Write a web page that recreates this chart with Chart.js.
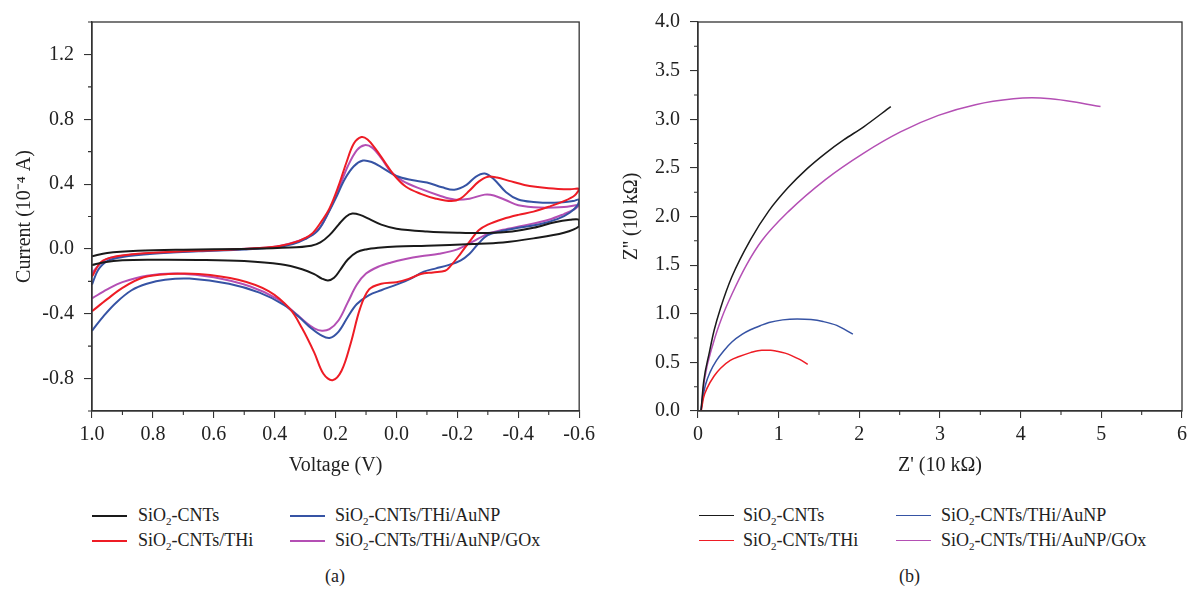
<!DOCTYPE html>
<html>
<head>
<meta charset="utf-8">
<script src="https://cdn.jsdelivr.net/npm/chart.js@4.4.1/dist/chart.umd.min.js"></script>
<style>
  html, body { margin: 0; padding: 0; background: #fff; }
  body { width: 1192px; height: 595px; overflow: hidden; position: relative; font-family: 'Liberation Serif', 'Times New Roman', serif; color: #222; }
  canvas { position: absolute; top: 0; }
  .lg { position: absolute; font-size: 18px; line-height: 20px; white-space: nowrap; }
  .ln { position: absolute; height: 0; border-top: 2px solid #000; }
  .lg sub { font-size: 11px; vertical-align: -4px; line-height: 0; }
  .cap { position: absolute; font-size: 18px; }
</style>
</head>
<body>
<canvas id="cvA" width="600" height="490" style="left:0px;"></canvas>
<canvas id="cvB" width="592" height="490" style="left:600px;"></canvas>

<script>
// ---------------- DATA ----------------
const seriesNames = ["SiO2-CNTs", "SiO2-CNTs/THi", "SiO2-CNTs/THi/AuNP", "SiO2-CNTs/THi/AuNP/GOx"];
const seriesColors = ["#1a1a1a", "#ee1c25", "#3653a4", "#b44fb4"];

// Panel (a): cyclic voltammograms, voltage (V) and current (1e-4 A); forward branch then return branch
const cvBlackV = [1.0,0.95,0.85,0.7,0.5,0.35,0.28,0.25,0.22,0.19,0.165,0.145,0.12,0.09,0.05,0.0,-0.1,-0.2,-0.3,-0.38,-0.45,-0.52,-0.57,-0.6,
                  -0.6,-0.55,-0.45,-0.35,-0.25,-0.1,0.0,0.06,0.1,0.13,0.16,0.185,0.205,0.225,0.245,0.27,0.31,0.38,0.5,0.65,0.8,0.9,0.96,1.0];
const cvBlackI = [-0.045,-0.025,-0.012,-0.005,0.0,0.008,0.02,0.04,0.085,0.15,0.2,0.218,0.21,0.185,0.15,0.125,0.108,0.1,0.098,0.108,0.13,0.165,0.18,0.18,
                  0.14,0.1,0.065,0.04,0.03,0.02,0.015,0.007,-0.003,-0.02,-0.065,-0.13,-0.178,-0.195,-0.183,-0.155,-0.125,-0.095,-0.075,-0.068,-0.067,-0.07,-0.082,-0.10];

const cvRedV = [1.0,0.97,0.93,0.85,0.7,0.55,0.45,0.38,0.32,0.28,0.25,0.22,0.19,0.165,0.14,0.115,0.095,0.07,0.04,0.01,-0.03,-0.08,-0.13,-0.18,-0.21,-0.24,-0.27,-0.3,-0.33,-0.37,-0.42,-0.5,-0.57,-0.6,
                -0.585,-0.55,-0.5,-0.45,-0.4,-0.35,-0.3,-0.27,-0.24,-0.21,-0.18,-0.16,-0.12,-0.08,-0.04,0.0,0.05,0.09,0.12,0.15,0.18,0.21,0.24,0.27,0.31,0.35,0.42,0.52,0.65,0.75,0.83,0.9,0.95,1.0];
const cvRedI = [-0.17,-0.08,-0.05,-0.03,-0.015,-0.005,0.005,0.02,0.05,0.09,0.16,0.25,0.39,0.53,0.65,0.69,0.675,0.62,0.54,0.46,0.385,0.34,0.31,0.295,0.31,0.36,0.415,0.445,0.44,0.42,0.395,0.375,0.368,0.37,
                0.33,0.295,0.26,0.23,0.21,0.185,0.15,0.115,0.045,-0.03,-0.1,-0.135,-0.145,-0.155,-0.185,-0.205,-0.215,-0.25,-0.37,-0.58,-0.75,-0.81,-0.77,-0.64,-0.49,-0.37,-0.26,-0.19,-0.155,-0.155,-0.175,-0.24,-0.31,-0.385];

const cvBlueV = [1.0,0.98,0.95,0.9,0.8,0.65,0.5,0.4,0.34,0.3,0.26,0.23,0.2,0.17,0.14,0.11,0.08,0.05,0.0,-0.05,-0.1,-0.15,-0.19,-0.23,-0.26,-0.29,-0.32,-0.36,-0.4,-0.45,-0.52,-0.58,-0.6,
                 -0.595,-0.57,-0.53,-0.47,-0.4,-0.34,-0.3,-0.27,-0.24,-0.21,-0.17,-0.13,-0.09,-0.04,0.0,0.05,0.09,0.13,0.16,0.19,0.22,0.25,0.28,0.32,0.37,0.45,0.55,0.68,0.76,0.82,0.87,0.92,0.96,1.0];
const cvBlueI = [-0.22,-0.13,-0.075,-0.05,-0.03,-0.015,-0.003,0.01,0.03,0.06,0.11,0.2,0.31,0.43,0.51,0.545,0.535,0.505,0.45,0.425,0.41,0.38,0.365,0.395,0.445,0.465,0.43,0.35,0.305,0.29,0.285,0.295,0.305,
                 0.27,0.225,0.185,0.152,0.13,0.108,0.085,0.035,-0.03,-0.072,-0.1,-0.12,-0.14,-0.19,-0.22,-0.255,-0.285,-0.34,-0.42,-0.51,-0.55,-0.53,-0.49,-0.42,-0.345,-0.27,-0.215,-0.183,-0.19,-0.215,-0.255,-0.33,-0.41,-0.505];

const cvPinkV = [1.0,0.97,0.94,0.87,0.75,0.6,0.45,0.38,0.32,0.28,0.25,0.22,0.19,0.16,0.13,0.105,0.08,0.05,0.02,-0.02,-0.08,-0.14,-0.19,-0.24,-0.29,-0.32,-0.36,-0.4,-0.47,-0.55,-0.6,
                 -0.585,-0.55,-0.5,-0.42,-0.35,-0.3,-0.25,-0.2,-0.14,-0.08,-0.03,0.02,0.06,0.1,0.13,0.16,0.19,0.22,0.245,0.27,0.3,0.33,0.39,0.48,0.6,0.72,0.82,0.9,0.95,1.0];
const cvPinkI = [-0.15,-0.085,-0.055,-0.035,-0.02,-0.008,0.005,0.02,0.05,0.085,0.135,0.24,0.37,0.51,0.61,0.64,0.625,0.56,0.48,0.42,0.37,0.33,0.305,0.31,0.335,0.33,0.3,0.27,0.255,0.258,0.27,
                 0.245,0.215,0.18,0.145,0.118,0.093,0.045,-0.003,-0.03,-0.045,-0.062,-0.085,-0.11,-0.152,-0.22,-0.33,-0.44,-0.495,-0.505,-0.49,-0.45,-0.4,-0.31,-0.232,-0.175,-0.152,-0.165,-0.205,-0.25,-0.305];

const cvXTicks = [1.0,0.8,0.6,0.4,0.2,0.0,-0.2,-0.4,-0.6];
const cvYTicks = [-0.8,-0.4,0.0,0.4,0.8,1.2];

// Panel (b): Nyquist plots, Z' and Z'' (10 kOhm)
const nyBlackRe = [0.037,0.07,0.14,0.2,0.28,0.42,0.65,0.88,1.12,1.35,1.58,1.81,2.05,2.39];
const nyBlackIm = [0.0,0.3,0.6,0.83,1.06,1.38,1.76,2.06,2.3,2.49,2.65,2.79,2.92,3.13];
const nyRedRe = [0.04,0.07,0.116,0.2,0.28,0.4,0.51,0.65,0.79,0.9,0.98,1.08,1.16,1.26,1.36];
const nyRedIm = [0.0,0.14,0.24,0.36,0.44,0.52,0.56,0.6,0.625,0.625,0.615,0.595,0.57,0.53,0.48];
const nyBlueRe = [0.037,0.06,0.093,0.15,0.23,0.32,0.42,0.55,0.65,0.78,0.88,1.05,1.23,1.4,1.55,1.72,1.92];
const nyBlueIm = [0.0,0.14,0.27,0.4,0.52,0.62,0.71,0.79,0.835,0.88,0.91,0.937,0.946,0.94,0.92,0.88,0.79];
const nyPinkRe = [0.037,0.08,0.19,0.3,0.42,0.6,0.79,1.12,1.58,2.05,2.51,2.98,3.44,3.91,4.14,4.37,4.65,4.99];
const nyPinkIm = [0.0,0.32,0.7,0.97,1.2,1.5,1.75,2.05,2.38,2.65,2.87,3.04,3.15,3.21,3.22,3.21,3.18,3.13];

const nyXTicks = [0,1,2,3,4,5,6];
const nyYTicks = [0.0,0.5,1.0,1.5,2.0,2.5,3.0,3.5,4.0];

// ---------------- HELPERS ----------------
const zip = (xs, ys) => xs.map((x, i) => ({x: x, y: ys[i]}));
const FONT = "'Liberation Serif', 'Times New Roman', serif";
const AX = '#333';

const framePlugin = {
  id: 'frame',
  afterDraw(chart) {
    const {ctx, chartArea: a, scales} = chart;
    ctx.save();
    ctx.strokeStyle = AX;
    ctx.lineWidth = 1.3;
    ctx.strokeRect(a.left, a.top, a.right - a.left, a.bottom - a.top);
    ctx.lineWidth = 1.1;
    const xs = scales.x, ys = scales.y;
    const xt = xs.ticks.map(t => t.value), yt = ys.ticks.map(t => t.value);
    ctx.beginPath();
    for (let i = 0; i < xt.length - 1; i++) {
      const px = xs.getPixelForValue((xt[i] + xt[i + 1]) / 2);
      ctx.moveTo(px, a.bottom); ctx.lineTo(px, a.bottom + 4);
    }
    const yv = [];
    for (let i = 0; i < yt.length - 1; i++) yv.push((yt[i] + yt[i + 1]) / 2);
    const step = yt.length > 1 ? (yt[1] - yt[0]) : 0;
    if (step) {
      let v = yt[0] - step / 2; while (v > ys.min - 1e-9) { yv.push(v); v -= step / 2; }
      v = yt[yt.length - 1] + step / 2; while (v < ys.max + 1e-9) { yv.push(v); v += step / 2; }
    }
    yv.forEach(v => {
      const py = ys.getPixelForValue(v);
      ctx.moveTo(a.left, py); ctx.lineTo(a.left - 4, py);
    });
    ctx.stroke();
    ctx.restore();
  }
};

function axisCommon(extra) {
  return Object.assign({
    type: 'linear',
    grid: { display: true, drawOnChartArea: false, drawTicks: true, tickLength: 8, color: AX, lineWidth: 1.1 },
    border: { display: true, color: AX, width: 1.3 },
  }, extra);
}

// ---------------- PANEL (a) ----------------
const cvData = [zip(cvBlackV, cvBlackI), zip(cvRedV, cvRedI), zip(cvBlueV, cvBlueI), zip(cvPinkV, cvPinkI)];

new Chart(document.getElementById('cvA'), {
  type: 'scatter',
  data: {
    datasets: cvData.map((d, i) => ({
      label: seriesNames[i], data: d, showLine: true, borderColor: seriesColors[i],
      borderWidth: 2, pointRadius: 0, tension: 0.35, fill: false
    }))
  },
  options: {
    responsive: false, animation: false, events: [],
    layout: { padding: { top: 17, right: 20, left: 0, bottom: 0 } },
    plugins: { legend: { display: false }, tooltip: { enabled: false } },
    scales: {
      x: axisCommon({
        reverse: true, min: -0.6, max: 1.0,
        afterBuildTicks: s => { s.ticks = cvXTicks.map(v => ({value: v})); },
        afterFit: s => { s.height = 79; },
        grid: { display: true, drawOnChartArea: false, drawTicks: true, tickLength: 7, color: AX, lineWidth: 1.1 },
        ticks: { autoSkip: false, maxRotation: 0, padding: 5, color: '#222', font: { family: FONT, size: 20 },
                 callback: v => (Math.abs(v) < 1e-9 ? 0 : v).toFixed(1) },
        title: { display: true, text: 'Voltage (V)', color: '#222', font: { family: FONT, size: 20 }, padding: { top: 0, bottom: 12 } }
      }),
      y: axisCommon({
        min: -1.0, max: 1.4,
        afterBuildTicks: s => { s.ticks = cvYTicks.map(v => ({value: v})); },
        afterFit: s => { s.width = 92; },
        ticks: { autoSkip: false, padding: 10, color: '#222', font: { family: FONT, size: 20 },
                 callback: v => (Math.abs(v) < 1e-9 ? 0 : v).toFixed(1) },
        title: { display: true, text: 'Current (10\u207B\u2074 A)', color: '#222', font: { family: FONT, size: 20 }, padding: { top: 13, bottom: 0 } }
      })
    }
  },
  plugins: [framePlugin]
});

// ---------------- PANEL (b) ----------------
const nyData = [zip(nyBlackRe, nyBlackIm), zip(nyRedRe, nyRedIm), zip(nyBlueRe, nyBlueIm), zip(nyPinkRe, nyPinkIm)];

new Chart(document.getElementById('cvB'), {
  type: 'scatter',
  data: {
    datasets: nyData.map((d, i) => ({
      label: seriesNames[i], data: d, showLine: true, borderColor: seriesColors[i],
      borderWidth: 1.5, pointRadius: 0, cubicInterpolationMode: 'monotone', fill: false
    }))
  },
  options: {
    responsive: false, animation: false, events: [],
    layout: { padding: { top: 19, right: 6, left: 0, bottom: 0 } },
    plugins: { legend: { display: false }, tooltip: { enabled: false } },
    scales: {
      x: axisCommon({
        min: 0, max: 6,
        afterBuildTicks: s => { s.ticks = nyXTicks.map(v => ({value: v})); },
        afterFit: s => { s.height = 79; },
        grid: { display: true, drawOnChartArea: false, drawTicks: true, tickLength: 7, color: AX, lineWidth: 1.1 },
        ticks: { autoSkip: false, maxRotation: 0, padding: 5, color: '#222', font: { family: FONT, size: 20 },
                 callback: v => String(Math.round(v)) },
        title: { display: true, text: "Z' (10 k\u03A9)", color: '#222', font: { family: FONT, size: 20 }, padding: { top: 0, bottom: 12 } }
      }),
      y: axisCommon({
        min: 0, max: 4,
        afterBuildTicks: s => { s.ticks = nyYTicks.map(v => ({value: v})); },
        afterFit: s => { s.width = 98; },
        ticks: { autoSkip: false, padding: 10, color: '#222', font: { family: FONT, size: 20 },
                 callback: v => v.toFixed(1) },
        title: { display: true, text: "Z'' (10 k\u03A9)", color: '#222', font: { family: FONT, size: 20 }, padding: { top: 20, bottom: 0 } }
      })
    }
  },
  plugins: [framePlugin]
});

// ---------------- LEGENDS (HTML, real text) ----------------
function legendHTML(name) {
  return name.replace('SiO2', 'SiO<sub>2</sub>');
}
const legendRows = [516, 541];
const legendLayouts = [
  { cols: [{line: 92, text: 138}, {line: 290, text: 335}] },
  { cols: [{line: 699, text: 743}, {line: 896, text: 941}] }
];
legendLayouts.forEach((L, p) => {
  seriesNames.forEach((name, i) => {
    const col = L.cols[Math.floor(i / 2)];
    const y = legendRows[i % 2];
    const ln = document.createElement('div');
    ln.className = 'ln';
    ln.style.left = col.line + 'px';
    ln.style.width = '35px';
    ln.style.top = (y - 1) + 'px';
    ln.style.borderTopColor = seriesColors[i];
    ln.style.borderTopWidth = p === 0 ? '2px' : '1.6px';
    document.body.appendChild(ln);
    const tx = document.createElement('div');
    tx.className = 'lg';
    tx.style.left = col.text + 'px';
    tx.style.top = (y - 11) + 'px';
    tx.innerHTML = legendHTML(name);
    document.body.appendChild(tx);
  });
});
[['(a)', 336], ['(b)', 910]].forEach(([t, x]) => {
  const d = document.createElement('div');
  d.className = 'cap';
  d.textContent = t;
  d.style.left = (x - 11) + 'px';
  d.style.top = '566px';
  document.body.appendChild(d);
});
</script>
</body>
</html>
